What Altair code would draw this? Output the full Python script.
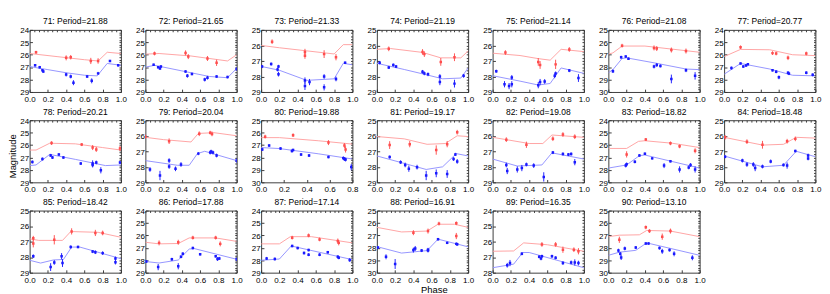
import altair as alt
import pandas as pd

PANELS = list(range(71, 91))
PERIODS = ["21.88", "21.65", "21.33", "21.19", "21.14", "21.08", "20.77",
           "20.21", "20.04", "19.88", "19.17", "19.08", "18.82", "18.48",
           "18.42", "17.88", "17.14", "16.91", "16.35", "13.10"]
Y_LO = [24, 24, 25, 25, 25, 25, 24, 24, 25, 25, 25, 25, 24, 25, 25, 24, 24, 25, 24, 25]
Y_HI = [29, 29, 29, 29, 29, 30, 29, 29, 29, 30, 29, 29, 29, 29, 29, 29, 29, 30, 28, 30]
X_HI = [1.0] * 9 + [0.8] + [1.0] * 10

# model curves (phase, magnitude)
RED_LINE = {
    71: [(0, 25.9), (0.3, 26.15), (0.6, 26.4), (0.75, 26.5), (0.85, 25.8), (1.0, 25.9)],
    72: [(0, 25.95), (0.15, 25.9), (0.5, 26.1), (0.9, 26.5), (1.0, 26.0)],
    73: [(0, 26.0), (0.2, 26.15), (0.5, 26.35), (0.8, 26.55), (0.9, 25.95), (1.0, 25.95)],
    74: [(0, 26.25), (0.15, 26.2), (0.5, 26.45), (0.7, 26.8), (0.92, 26.8), (1.0, 26.35)],
    75: [(0, 26.5), (0.3, 26.65), (0.5, 26.85), (0.63, 26.95), (0.75, 26.25), (1.0, 26.4)],
    76: [(0, 26.95), (0.05, 26.85), (0.15, 26.3), (0.4, 26.3), (0.7, 26.55), (1.0, 26.8)],
    77: [(0, 26.15), (0.18, 25.57), (0.5, 25.6), (0.75, 26.0), (1.0, 26.07)],
    78: [(0, 26.4), (0.07, 26.4), (0.22, 25.85), (0.5, 25.9), (0.8, 26.2), (1.0, 26.4)],
    79: [(0, 26.1), (0.2, 26.25), (0.5, 26.4), (0.58, 25.85), (0.75, 25.8), (1.0, 26.0)],
    80: [(0, 26.4), (0.16, 26.4), (0.5, 26.65), (0.8, 26.92)],
    81: [(0, 26.05), (0.3, 26.2), (0.55, 26.55), (0.75, 26.5), (0.88, 26.0), (1.0, 26.05)],
    82: [(0, 26.1), (0.4, 26.5), (0.55, 26.5), (0.65, 25.95), (1.0, 26.1)],
    83: [(0, 26.27), (0.2, 26.27), (0.33, 25.7), (0.4, 25.65), (0.7, 25.85), (1.0, 26.2)],
    84: [(0, 26.1), (0.42, 26.6), (0.65, 26.55), (0.79, 26.1), (1.0, 26.15)],
    85: [(0, 26.82), (0.1, 26.92), (0.36, 26.92), (0.45, 26.35), (0.75, 26.4), (1.0, 26.72)],
    86: [(0, 26.55), (0.15, 26.68), (0.36, 26.65), (0.48, 26.2), (0.77, 26.2), (1.0, 26.48)],
    87: [(0, 26.68), (0.2, 26.68), (0.32, 26.1), (0.55, 26.1), (1.0, 26.6)],
    88: [(0, 26.35), (0.27, 26.72), (0.55, 26.65), (0.67, 26.1), (0.85, 26.1), (1.0, 26.35)],
    89: [(0, 26.62), (0.23, 26.6), (0.34, 26.08), (0.6, 26.2), (1.0, 26.62)],
    90: [(0, 27.1), (0.12, 26.98), (0.34, 26.95), (0.42, 26.6), (0.68, 26.65), (1.0, 27.1)],
}
BLUE_LINE = {
    71: [(0, 26.95), (0.2, 27.2), (0.4, 27.45), (0.6, 27.65), (0.74, 27.7), (0.85, 26.7), (1.0, 26.85)],
    72: [(0, 27.0), (0.1, 26.85), (0.4, 27.3), (0.7, 27.75), (0.9, 27.85), (1.0, 27.1)],
    73: [(0, 27.35), (0.2, 27.6), (0.5, 28.25), (0.8, 28.15), (0.9, 27.15), (1.0, 27.25)],
    74: [(0, 27.15), (0.3, 27.55), (0.55, 27.9), (0.72, 28.15), (0.92, 28.1), (1.0, 27.45)],
    75: [(0, 27.95), (0.3, 28.3), (0.5, 28.55), (0.63, 28.45), (0.75, 27.45), (1.0, 27.8)],
    76: [(0, 28.45), (0.05, 28.2), (0.15, 27.3), (0.2, 27.25), (0.5, 27.65), (0.85, 28.15), (1.0, 28.2)],
    77: [(0, 27.57), (0.18, 26.7), (0.5, 27.15), (0.75, 27.65), (1.0, 27.7)],
    78: [(0, 27.65), (0.07, 27.6), (0.22, 26.75), (0.5, 27.15), (0.83, 27.65), (1.0, 27.6)],
    79: [(0, 27.6), (0.35, 27.9), (0.48, 27.9), (0.57, 27.15), (0.65, 27.0), (1.0, 27.6)],
    80: [(0, 27.2), (0.16, 27.28), (0.5, 27.7), (0.8, 28.12)],
    81: [(0, 27.3), (0.25, 27.7), (0.54, 28.17), (0.72, 28.0), (0.87, 27.15), (1.0, 27.3)],
    82: [(0, 27.5), (0.27, 27.95), (0.54, 27.88), (0.65, 27.1), (1.0, 27.5)],
    83: [(0, 27.85), (0.2, 27.6), (0.34, 26.85), (0.4, 26.8), (1.0, 27.85)],
    84: [(0, 27.3), (0.42, 28.0), (0.65, 27.9), (0.79, 27.0), (1.0, 27.35)],
    85: [(0, 28.2), (0.12, 28.38), (0.26, 28.18), (0.37, 28.15), (0.46, 27.35), (0.55, 27.35), (1.0, 28.1)],
    86: [(0, 28.1), (0.15, 28.22), (0.36, 27.98), (0.48, 27.1), (0.53, 27.05), (1.0, 27.92)],
    87: [(0, 28.0), (0.2, 27.9), (0.33, 26.85), (1.0, 27.95)],
    88: [(0, 27.9), (0.27, 28.42), (0.55, 28.22), (0.67, 27.3), (1.0, 27.92)],
    89: [(0, 27.68), (0.23, 27.45), (0.33, 26.7), (0.4, 26.7), (1.0, 27.68)],
    90: [(0, 28.6), (0.12, 28.35), (0.3, 28.2), (0.41, 27.65), (0.45, 27.65), (1.0, 28.6)],
}
# observations (phase, magnitude, error)
RED_PTS = {
    71: [(0.07, 25.8, 0.12), (0.40, 26.25, 0.2), (0.45, 26.2, 0.18), (0.67, 26.5, 0.25), (0.75, 26.5, 0.22)],
    72: [(0.10, 25.9, 0.15), (0.44, 25.85, 0.2), (0.47, 26.15, 0.2), (0.68, 26.3, 0.2), (0.78, 26.65, 0.25)],
    73: [(0.12, 25.76, 0.15), (0.48, 26.42, 0.2), (0.48, 26.66, 0.2), (0.69, 26.56, 0.25), (0.82, 26.76, 0.2)],
    74: [(0.13, 26.22, 0.15), (0.50, 26.42, 0.18), (0.52, 26.56, 0.18), (0.70, 27.06, 0.25), (0.85, 26.76, 0.25)],
    75: [(0.14, 26.46, 0.15), (0.50, 27.06, 0.25), (0.52, 27.26, 0.25), (0.69, 27.22, 0.3), (0.84, 26.26, 0.15)],
    76: [(0.15, 26.27, 0.15), (0.50, 26.45, 0.2), (0.53, 26.5, 0.2), (0.69, 26.62, 0.2), (0.85, 26.7, 0.2)],
    77: [(0.18, 25.4, 0.15), (0.53, 25.87, 0.15), (0.57, 25.9, 0.15), (0.70, 26.25, 0.18), (0.90, 25.9, 0.15)],
    78: [(0.24, 25.84, 0.15), (0.57, 25.96, 0.12), (0.69, 26.2, 0.2), (0.73, 26.35, 0.2), (0.99, 26.27, 0.2)],
    79: [(0.0, 26.06, 0.15), (0.26, 26.35, 0.18), (0.59, 25.87, 0.15), (0.71, 25.8, 0.12), (0.73, 25.88, 0.15)],
    80: [(0.035, 26.32, 0.15), (0.28, 26.2, 0.15), (0.59, 26.8, 0.2), (0.73, 27.04, 0.2), (0.74, 27.35, 0.25)],
    81: [(0.14, 26.6, 0.25), (0.36, 26.54, 0.2), (0.65, 26.92, 0.3), (0.77, 26.54, 0.2), (0.88, 25.77, 0.15)],
    82: [(0.15, 26.25, 0.15), (0.37, 26.58, 0.2), (0.66, 26.19, 0.15), (0.77, 25.92, 0.15), (0.90, 26.06, 0.15)],
    83: [(0.2, 26.75, 0.25), (0.41, 25.55, 0.12), (0.68, 25.86, 0.15), (0.78, 26.1, 0.15), (0.95, 26.46, 0.2)],
    84: [(0.01, 26.1, 0.15), (0.25, 26.38, 0.15), (0.42, 26.58, 0.25), (0.69, 26.35, 0.15), (0.78, 26.2, 0.15)],
    85: [(0.04, 26.78, 0.15), (0.04, 27.12, 0.25), (0.27, 26.88, 0.3), (0.46, 26.34, 0.2), (0.72, 26.44, 0.2), (0.80, 26.44, 0.15)],
    86: [(0.15, 26.6, 0.2), (0.36, 26.55, 0.2), (0.52, 26.18, 0.15), (0.77, 26.18, 0.15), (0.82, 26.68, 0.2)],
    87: [(0.34, 26.18, 0.15), (0.52, 26.0, 0.15), (0.64, 26.32, 0.15), (0.84, 26.45, 0.2), (0.85, 26.6, 0.2)],
    88: [(0.40, 26.78, 0.2), (0.56, 26.65, 0.2), (0.68, 26.05, 0.15), (0.87, 26.02, 0.15), (0.87, 27.05, 0.25)],
    89: [(0.54, 26.18, 0.15), (0.69, 26.18, 0.15), (0.77, 26.52, 0.2), (0.89, 26.52, 0.15), (0.94, 26.62, 0.2)],
    90: [(0.12, 27.35, 0.25), (0.41, 26.35, 0.15), (0.45, 26.65, 0.15), (0.59, 27.1, 0.25), (0.68, 26.65, 0.2)],
}
BLUE_PTS = {
    71: [(0.06, 26.85, 0.1), (0.11, 27.0, 0.1), (0.14, 27.25, 0.1), (0.15, 27.35, 0.1), (0.40, 27.6, 0.15), (0.45, 27.75, 0.15),
         (0.48, 28.25, 0.2), (0.63, 27.75, 0.12), (0.68, 28.1, 0.2), (0.75, 27.5, 0.12), (0.88, 26.5, 0.08), (0.97, 26.85, 0.1)],
    72: [(0.09, 26.8, 0.08), (0.14, 27.0, 0.1), (0.16, 27.1, 0.1), (0.17, 26.95, 0.1), (0.44, 27.35, 0.1), (0.46, 27.7, 0.15),
         (0.51, 27.55, 0.1), (0.65, 28.0, 0.15), (0.68, 27.85, 0.15), (0.78, 27.75, 0.1), (0.90, 27.8, 0.1), (1.0, 27.15, 0.15)],
    73: [(0.01, 27.36, 0.1), (0.11, 27.2, 0.1), (0.18, 27.55, 0.12), (0.19, 27.85, 0.15), (0.19, 27.35, 0.1), (0.48, 28.26, 0.2),
         (0.48, 28.62, 0.25), (0.53, 28.36, 0.2), (0.69, 28.0, 0.15), (0.69, 28.7, 0.2), (0.82, 28.16, 0.15), (0.92, 27.12, 0.08)],
    74: [(0.03, 27.12, 0.1), (0.13, 27.42, 0.1), (0.18, 27.26, 0.1), (0.21, 27.36, 0.1), (0.50, 27.7, 0.12), (0.52, 27.8, 0.12),
         (0.56, 27.86, 0.12), (0.69, 28.0, 0.15), (0.69, 28.36, 0.2), (0.85, 28.46, 0.25), (0.95, 27.96, 0.12)],
    75: [(0.04, 27.66, 0.1), (0.13, 28.5, 0.2), (0.18, 28.62, 0.2), (0.21, 28.06, 0.15), (0.21, 28.5, 0.2), (0.50, 28.56, 0.2),
         (0.52, 28.36, 0.2), (0.57, 28.32, 0.15), (0.68, 27.96, 0.15), (0.69, 27.8, 0.12), (0.84, 27.62, 0.1), (0.94, 28.1, 0.25)],
    76: [(0.05, 28.32, 0.15), (0.14, 27.2, 0.12), (0.19, 27.15, 0.1), (0.22, 27.32, 0.1), (0.50, 27.95, 0.15), (0.53, 27.82, 0.15),
         (0.57, 27.9, 0.12), (0.69, 28.95, 0.35), (0.85, 28.25, 0.15), (0.95, 28.7, 0.3)],
    77: [(0.08, 27.07, 0.12), (0.18, 26.7, 0.08), (0.21, 26.95, 0.1), (0.24, 26.87, 0.1), (0.26, 26.77, 0.08), (0.53, 27.25, 0.1),
         (0.57, 27.37, 0.12), (0.60, 27.82, 0.15), (0.70, 27.45, 0.12), (0.71, 27.52, 0.12), (0.90, 27.45, 0.12), (0.97, 27.62, 0.12)],
    78: [(0.03, 27.36, 0.12), (0.14, 27.12, 0.12), (0.23, 26.83, 0.12), (0.25, 27.0, 0.12), (0.32, 26.75, 0.1), (0.37, 27.0, 0.1),
         (0.56, 27.48, 0.12), (0.69, 27.48, 0.25), (0.69, 27.6, 0.2), (0.73, 27.4, 0.15), (0.78, 28.03, 0.25), (0.99, 27.4, 0.12)],
    79: [(0.05, 28.17, 0.15), (0.16, 28.56, 0.3), (0.26, 27.6, 0.15), (0.26, 27.98, 0.15), (0.33, 28.13, 0.15), (0.39, 27.85, 0.15),
         (0.58, 27.15, 0.1), (0.71, 27.08, 0.12), (0.72, 27.02, 0.12), (0.74, 27.08, 0.12), (0.78, 27.27, 0.12), (1.0, 27.6, 0.15)],
    80: [(0.01, 27.35, 0.12), (0.07, 27.04, 0.1), (0.17, 27.28, 0.1), (0.27, 27.48, 0.12), (0.28, 27.4, 0.1), (0.35, 27.76, 0.12),
         (0.42, 27.84, 0.12), (0.59, 27.96, 0.1), (0.72, 28.05, 0.15), (0.73, 28.12, 0.15), (0.74, 28.17, 0.15), (0.79, 28.77, 0.25)],
    81: [(0.14, 27.37, 0.1), (0.26, 27.7, 0.12), (0.31, 27.88, 0.15), (0.35, 28.12, 0.2), (0.44, 28.02, 0.15), (0.54, 28.56, 0.3),
         (0.65, 28.42, 0.25), (0.77, 28.46, 0.25), (0.84, 27.5, 0.12), (0.86, 27.2, 0.1), (0.88, 27.65, 0.15)],
    82: [(0.15, 27.88, 0.15), (0.16, 28.27, 0.2), (0.27, 28.17, 0.2), (0.32, 28.08, 0.2), (0.37, 27.85, 0.12), (0.45, 27.92, 0.15),
         (0.56, 28.65, 0.3), (0.66, 27.08, 0.1), (0.77, 27.17, 0.1), (0.83, 27.21, 0.1), (0.86, 27.17, 0.1), (0.90, 27.7, 0.2)],
    83: [(0.19, 27.65, 0.15), (0.2, 27.55, 0.15), (0.29, 27.35, 0.12), (0.34, 26.83, 0.1), (0.40, 26.7, 0.1), (0.48, 27.07, 0.1),
         (0.61, 27.65, 0.2), (0.68, 27.3, 0.1), (0.78, 27.96, 0.25), (0.88, 27.8, 0.15), (0.9, 27.6, 0.15), (0.95, 27.96, 0.25)],
    84: [(0.01, 27.35, 0.1), (0.20, 27.6, 0.12), (0.25, 27.85, 0.15), (0.32, 27.85, 0.15), (0.34, 28.08, 0.2), (0.42, 27.98, 0.12),
         (0.51, 27.65, 0.12), (0.65, 27.88, 0.1), (0.69, 27.92, 0.2), (0.78, 26.98, 0.08), (0.92, 27.27, 0.12), (0.92, 27.46, 0.12)],
    85: [(0.04, 27.94, 0.12), (0.23, 28.64, 0.25), (0.27, 28.34, 0.15), (0.35, 27.94, 0.2), (0.36, 28.38, 0.25), (0.45, 27.34, 0.1),
         (0.53, 27.34, 0.08), (0.69, 27.64, 0.1), (0.72, 27.68, 0.12), (0.80, 27.74, 0.12), (0.94, 28.08, 0.12), (0.94, 28.32, 0.15)],
    86: [(0.01, 28.1, 0.12), (0.14, 28.55, 0.25), (0.29, 27.92, 0.12), (0.36, 28.48, 0.25), (0.39, 27.72, 0.12), (0.41, 27.48, 0.12),
         (0.52, 27.02, 0.1), (0.60, 27.52, 0.1), (0.77, 27.68, 0.1), (0.79, 27.9, 0.15), (0.81, 27.85, 0.12), (1.0, 27.92, 0.15)],
    87: [(0.06, 27.85, 0.12), (0.15, 27.9, 0.12), (0.34, 26.85, 0.1), (0.40, 27.02, 0.1), (0.47, 27.42, 0.12), (0.52, 27.55, 0.12),
         (0.52, 27.18, 0.1), (0.64, 27.55, 0.12), (0.73, 27.35, 0.1), (0.84, 27.72, 0.12), (0.85, 27.8, 0.12), (0.97, 27.98, 0.15)],
    88: [(0.01, 27.98, 0.12), (0.10, 28.72, 0.2), (0.20, 29.3, 0.4), (0.40, 28.18, 0.2), (0.42, 28.05, 0.2), (0.49, 28.22, 0.12),
         (0.56, 28.15, 0.15), (0.56, 28.22, 0.15), (0.67, 27.3, 0.1), (0.77, 27.6, 0.1), (0.87, 27.68, 0.12), (0.88, 27.72, 0.12)],
    89: [(0.16, 27.52, 0.15), (0.19, 27.38, 0.2), (0.32, 26.78, 0.1), (0.51, 26.98, 0.1), (0.53, 27.08, 0.12), (0.54, 26.94, 0.1),
         (0.65, 26.94, 0.1), (0.69, 27.04, 0.1), (0.77, 27.38, 0.12), (0.86, 27.34, 0.12), (0.90, 27.34, 0.2), (0.94, 27.38, 0.15)],
    90: [(0.11, 28.22, 0.15), (0.13, 28.48, 0.15), (0.14, 28.78, 0.2), (0.18, 28.05, 0.15), (0.30, 27.98, 0.12), (0.41, 27.65, 0.1),
         (0.44, 27.65, 0.1), (0.56, 28.02, 0.12), (0.59, 28.28, 0.2), (0.67, 28.18, 0.12), (0.72, 28.48, 0.2), (0.92, 28.8, 0.2)],
}

FONT = "Liberation Sans"
RED_LINE_C = "#ffa0a0"
RED_PT_C = "#ff4d4d"
BLUE_LINE_C = "#9090ff"
BLUE_PT_C = "#1a1aff"
W, H = 97, 66
PHASE_PANEL = 88


def make_panel(i):
    pid = PANELS[i]
    ylo, yhi, xhi = Y_LO[i], Y_HI[i], X_HI[i]
    xvals = [round(0.2 * k, 1) for k in range(int(round(xhi / 0.2)) + 1)]
    xminor = [round(0.05 * k, 2) for k in range(int(round(xhi / 0.05)) + 1)]
    yminor = [round(ylo + 0.2 * k, 1) for k in range(int(round((yhi - ylo) / 0.2)) + 1)]
    xs = alt.Scale(domain=[0, xhi], nice=False, zero=False)
    ys = alt.Scale(domain=[ylo, yhi], reverse=True, nice=False, zero=False)
    common = dict(grid=False, domain=False, tickColor="#333",
                  labelFontSize=8.5, labelFont=FONT, labelColor="black",
                  labelFlush=False, labelOverlap=False, labelBound=False, minExtent=0)
    if pid == PHASE_PANEL:
        xa = alt.Axis(values=xvals, format=".1f", orient="bottom", tickSize=3, offset=-3,
                      labelPadding=3, title="Phase", titleFont=FONT, titleFontSize=10,
                      titleFontWeight="normal", titleColor="black", titlePadding=2,
                      titleX=W / 2 + 12, titleAlign="center", **common)
    else:
        xa = alt.Axis(values=xvals, format=".1f", orient="bottom", tickSize=3, offset=-3,
                      labelPadding=3, title=None, **common)
    ya = alt.Axis(values=list(range(ylo, yhi + 1)), format="d", orient="left",
                  tickSize=3, offset=-3, labelPadding=1, title=None, **common)
    xt = alt.Axis(values=xminor, orient="top", labels=False, tickSize=2, offset=-2,
                  title=None, **common)
    yr = alt.Axis(values=yminor, orient="right", labels=False, tickSize=2, offset=-2,
                  title=None, **common)

    rl = pd.DataFrame(RED_LINE[pid], columns=["phase", "mag"])
    bl = pd.DataFrame(BLUE_LINE[pid], columns=["phase", "mag"])
    rp = pd.DataFrame(RED_PTS[pid], columns=["phase", "mag", "err"])
    bp = pd.DataFrame(BLUE_PTS[pid], columns=["phase", "mag", "err"])
    for d in (rp, bp):
        d["lo"] = d["mag"] - d["err"]
        d["hi"] = d["mag"] + d["err"]

    def enc(xaxis=None, yaxis=None):
        return dict(x=alt.X("phase:Q", scale=xs, axis=xaxis),
                    y=alt.Y("mag:Q", scale=ys, axis=yaxis))

    red_line = alt.Chart(rl).mark_line(color=RED_LINE_C, strokeWidth=1, clip=True).encode(**enc(xa, ya))
    blue_line = alt.Chart(bl).mark_line(color=BLUE_LINE_C, strokeWidth=1, clip=True).encode(**enc(xt, yr))

    def errs(df, c):
        return alt.Chart(df).mark_rule(color=c, strokeWidth=1, clip=True).encode(
            x=alt.X("phase:Q", scale=xs, axis=None),
            y=alt.Y("lo:Q", scale=ys, axis=None), y2="hi:Q")

    def pts(df, c):
        return alt.Chart(df).mark_square(color=c, size=7, opacity=1, clip=True).encode(**enc())

    return alt.layer(
        red_line, blue_line,
        errs(rp, RED_PT_C), pts(rp, RED_PT_C),
        errs(bp, BLUE_PT_C), pts(bp, BLUE_PT_C),
    ).resolve_axis(x="independent", y="independent").properties(
        width=W, height=H,
        title=alt.TitleParams(f"{pid}: Period={PERIODS[i]}", fontSize=9, fontWeight="normal",
                              font=FONT, color="black", offset=0),
    )


panels = [make_panel(i) for i in range(len(PANELS))]
rows = [alt.hconcat(*panels[r * 7:(r + 1) * 7], spacing=8) for r in range(3)]
chart = alt.vconcat(*rows, spacing=4).properties(
    title=alt.TitleParams("Magnitude", orient="left", anchor="middle", fontSize=10,
                          fontWeight="normal", font=FONT, color="black", offset=2),
    padding=0,
).configure_view(stroke="#333", strokeWidth=1)

chart.save("out.html", embed_options={"renderer": "svg", "actions": False})
